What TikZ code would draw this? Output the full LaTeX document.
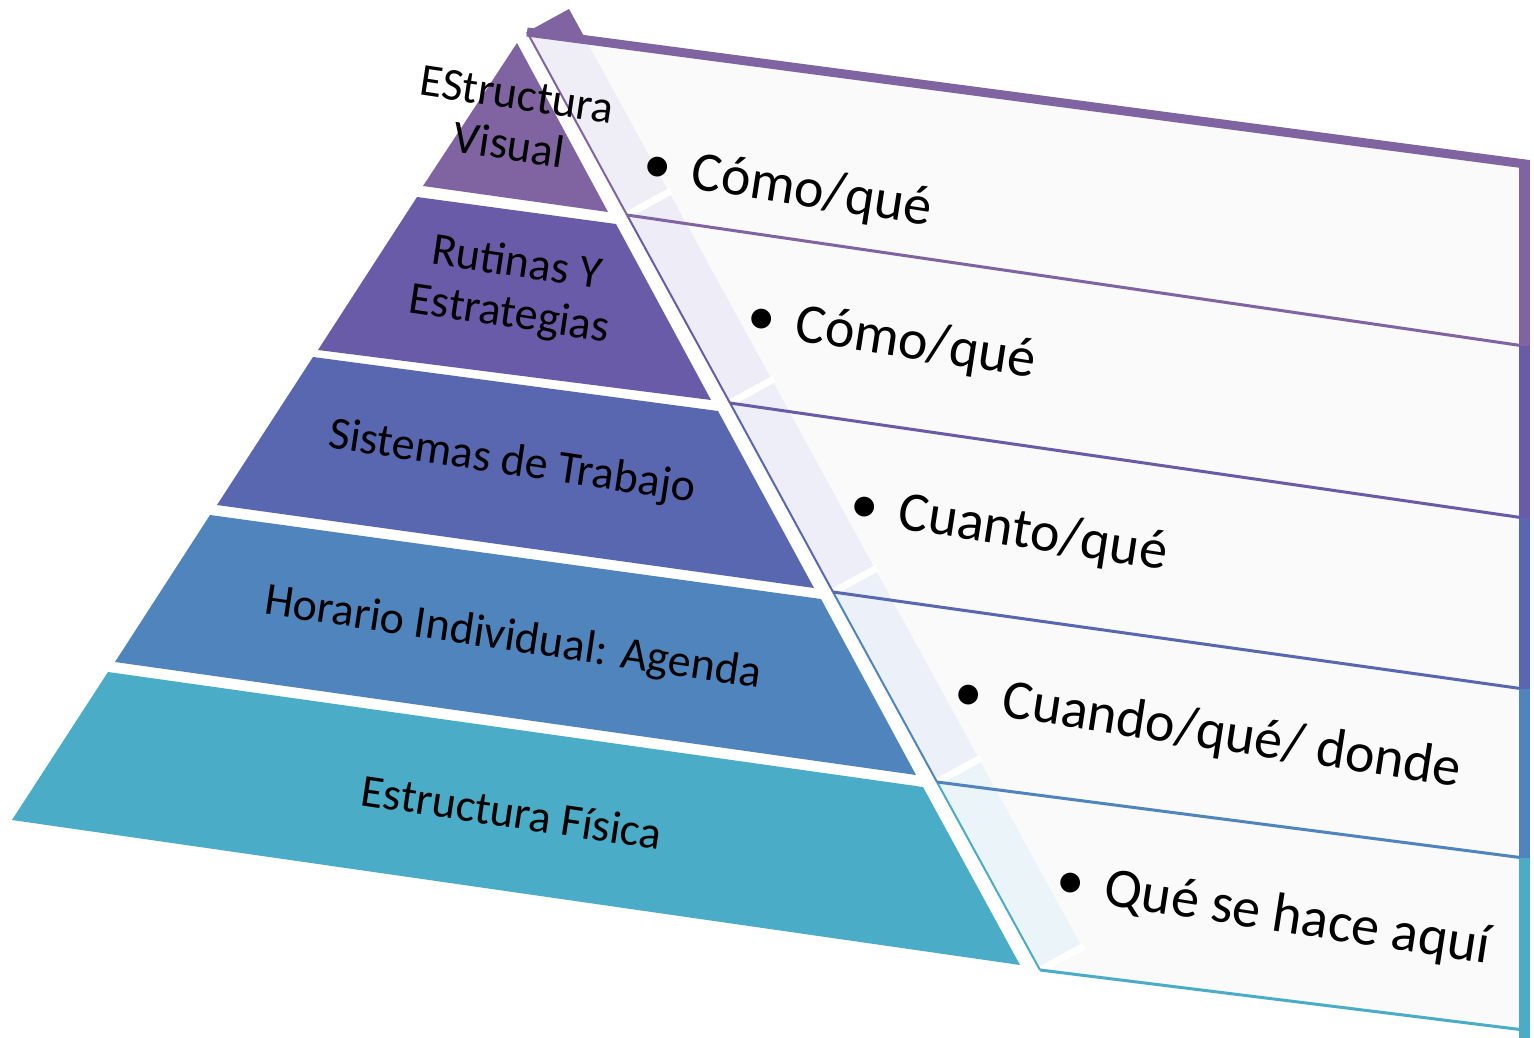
\documentclass[tikz,border=0pt]{standalone}
\usepackage{fontspec}
\setmainfont{Carlito}
\usetikzlibrary{calc}
\definecolor{cA}{HTML}{8064A2}
\definecolor{cB}{HTML}{6A5BA8}
\definecolor{cC}{HTML}{5967B1}
\definecolor{cD}{HTML}{4F84BD}
\definecolor{cE}{HTML}{4AACC6}
\definecolor{panel}{HTML}{FAFAFB}
\definecolor{bA}{HTML}{EFEDF6}
\definecolor{bB}{HTML}{EEEDF7}
\definecolor{bC}{HTML}{EDEEF8}
\definecolor{bD}{HTML}{ECF0F8}
\definecolor{bE}{HTML}{EBF4F8}
\tikzset{
  layer/.style={fill=#1, draw=none},
  pyrtext/.style={font=\fontsize{46}{51}\selectfont, align=center, rotate=-8.5, inner sep=0pt, text=black},
  item/.style={font=\fontsize{56}{62}\selectfont, rotate=-8.8, inner sep=0pt, anchor=base west, text=black},
  rowfill/.style={fill=panel, draw=none},
  bandfill/.style={fill=#1, draw=none},
  gapline/.style={draw=white, line width=7pt},
  rowsep/.style={draw=#1, line width=3pt},
  leftline/.style={draw=#1, line width=2pt},
  rim/.style={draw=#1, line width=11pt},
}
\begin{document}
\begin{tikzpicture}[x=1pt,y=-1pt]
\useasboundingbox (0,0) rectangle (1534,1038);
% ---------- pyramid layers ----------
\fill[layer=cA] (517,43) -- (608,212) -- (423,186) -- cycle;
\fill[layer=cB] (417,197) -- (616,224) -- (711,400) -- (318,350) -- cycle;
\fill[layer=cC] (313,357) -- (718,411) -- (814,588) -- (217,505) -- cycle;
\fill[layer=cD] (210,515) -- (821,599) -- (916,775) -- (115,662) -- cycle;
\fill[layer=cE] (108,672) -- (923,787) -- (1020,965) -- (12,820) -- cycle;
% ---------- panel corner coordinates ----------
\coordinate (P0) at (527,32);  \coordinate (Q0) at (1524,165);
\coordinate (P1) at (627,215); \coordinate (Q1) at (1524,346);
\coordinate (P2) at (730,403); \coordinate (Q2) at (1524,518);
\coordinate (P3) at (833,592); \coordinate (Q3) at (1524,689);
\coordinate (P4) at (937,782); \coordinate (Q4) at (1524,858);
\coordinate (P5) at (1040,970);\coordinate (Q5) at (1524,1030);
% row fills
\fill[rowfill] (P0) -- (Q0) -- (Q1) -- (P1) -- cycle;
\fill[rowfill] (P1) -- (Q1) -- (Q2) -- (P2) -- cycle;
\fill[rowfill] (P2) -- (Q2) -- (Q3) -- (P3) -- cycle;
\fill[rowfill] (P3) -- (Q3) -- (Q4) -- (P4) -- cycle;
\fill[rowfill] (P4) -- (Q4) -- (Q5) -- (P5) -- cycle;
% tinted bands
\fill[bandfill=bA] (P0) -- ++(42,-23) -- ($(P1)+(42,-23)$) -- (P1) -- cycle;
\fill[bandfill=bB] (P1) -- ++(42,-23) -- ($(P2)+(42,-23)$) -- (P2) -- cycle;
\fill[bandfill=bC] (P2) -- ++(42,-23) -- ($(P3)+(42,-23)$) -- (P3) -- cycle;
\fill[bandfill=bD] (P3) -- ++(42,-23) -- ($(P4)+(42,-23)$) -- (P4) -- cycle;
\fill[bandfill=bE] (P4) -- ++(42,-23) -- ($(P5)+(42,-23)$) -- (P5) -- cycle;
\draw[gapline] (P1) -- ++(44,-24);
\draw[gapline] (P2) -- ++(44,-24);
\draw[gapline] (P3) -- ++(44,-24);
\draw[gapline] (P4) -- ++(44,-24);
\draw[gapline] (P5) -- ++(44,-24);
% spike
\fill[cA] (P0) -- (569,9) -- (586,40) -- cycle;
% left lines
\draw[leftline=cA] (P0) -- (P1);
\draw[leftline=cB] (P1) -- (P2);
\draw[leftline=cC] (P2) -- (P3);
\draw[leftline=cD] (P3) -- (P4);
\draw[leftline=cE] (P4) -- (P5);
% separators
\draw[rowsep=cA] (P1) -- (Q1);
\draw[rowsep=cB] (P2) -- (Q2);
\draw[rowsep=cC] (P3) -- (Q3);
\draw[rowsep=cD] (P4) -- (Q4);
\draw[rowsep=cE] (P5) -- (Q5);
% right rim
\draw[rim=cA] (1524,160) -- (Q1);
\draw[rim=cB] (Q1) -- (Q2);
\draw[rim=cC] (Q2) -- (Q3);
\draw[rim=cD] (Q3) -- (Q4);
\draw[rim=cE] (Q4) -- (1524,1038);
% top rim
\draw[cA, line width=9pt] (P0) -- (1529,164.5);
% ---------- pyramid texts ----------
\node[pyrtext] (t1) at (513,120) {EStructura\\Visual};
\node[pyrtext] (t2) at (513,290) {Rutinas Y\\Estrategias};
\node[pyrtext] (t3) at (512,463) {Sistemas de Trabajo};
\node[pyrtext] (t4) at (513,639) {Horario Individual: Agenda};
\node[pyrtext] (t5) at (512,812) {Estructura Física};
% ---------- list texts ----------
\node[item] (r1) at (655,183) {\makebox[0pt][c]{•}\hspace{35pt}Cómo/qué};
\node[item] (r2) at (759,335) {\makebox[0pt][c]{•}\hspace{35pt}Cómo/qué};
\node[item] (r3) at (862,523) {\makebox[0pt][c]{•}\hspace{35pt}Cuanto/qué};
\node[item] (r4) at (966,711) {\makebox[0pt][c]{•}\hspace{35pt}Cuando/qué/ donde};
\node[item] (r5) at (1068,899) {\makebox[0pt][c]{•}\hspace{35pt}Qué se hace aquí};
\end{tikzpicture}
\end{document}
